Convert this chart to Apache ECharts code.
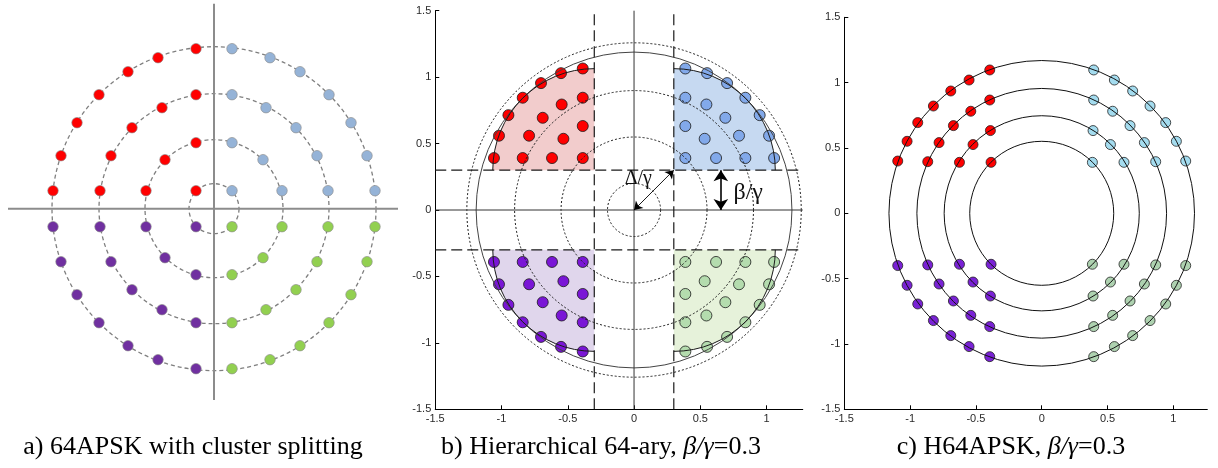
<!DOCTYPE html>
<html><head><meta charset="utf-8">
<script src="https://cdn.jsdelivr.net/npm/echarts@6/dist/echarts.min.js"></script>
<style>html,body{margin:0;padding:0;background:#fff}#c{width:1218px;height:468px}</style>
</head><body><div id="c"></div>
<script>
// ================= DATA =================
// quadrant order: upper-left, upper-right, lower-left, lower-right
const quadNames = ['UL', 'UR', 'LL', 'LR'];
const quadSignX = [-1, 1, -1, 1];
const quadSignY = [1, 1, -1, -1];

// a) 64APSK with cluster splitting (magnitudes of one quadrant, rings 1,3,5,7 points)
const pointsA = [
  [0.18,0.18],
  [0.68,0.18],[0.49,0.49],[0.18,0.66],
  [1.14,0.18],[1.03,0.53],[0.82,0.81],[0.52,1.01],[0.18,1.14],
  [1.61,0.18],[1.53,0.53],[1.37,0.86],[1.15,1.14],[0.86,1.37],[0.56,1.51],[0.18,1.60]
];
const ringRadiiA = [0.25, 0.69, 1.15, 1.62];
const axisLinesA = [[-2.06, 0, 1.84, 0], [0, 2.05, 0, -1.913]];

// b) Hierarchical 64-ary, beta/gamma = 0.3
const pointsB = [
  [0.387,1.065],[0.551,1.030],[0.702,0.955],[0.840,0.845],[0.387,0.845],[0.546,0.794],
  [0.948,0.714],[0.689,0.694],[0.387,0.632],[1.019,0.559],[0.792,0.559],[0.533,0.536],
  [1.057,0.391],[0.840,0.391],[0.619,0.391],[0.387,0.391]
];
const clusterOffsetB = 0.3;
const clusterRadiusB = 0.765;
const solidCirclesB = [1.19];
const dottedCirclesB = [0.2, 0.55, 0.9, 1.26];
const solidLinesB = [[0, -1.5, 0, 1.5], [-1.5, 0, 1.273, 0]];
const dashedLinesB = [[-0.3, -1.5, -0.3, 1.5], [0.3, -1.5, 0.3, 1.5], [-1.5, 0.3, 1.273, 0.3], [-1.5, -0.3, 1.273, -0.3]];
const arrowsB = [[0, 0, 0.3, 0.3], [0.655, 0, 0.655, 0.3]];
const labelTextsB = ['Δ/γ', 'β/γ'];
const labelPosB = [[0.032, 0.238], [0.75, 0.133]];

// c) H64APSK, beta/gamma = 0.3
const pointsC = [
  [1.094,0.400],[1.023,0.551],[0.942,0.694],[0.823,0.821],[0.691,0.936],[0.552,1.020],[0.395,1.097],
  [0.866,0.395],[0.780,0.541],[0.671,0.671],[0.539,0.781],[0.395,0.867],
  [0.625,0.390],[0.522,0.526],[0.390,0.633],
  [0.385,0.390]
];
const ringRadiiC = [0.549, 0.744, 0.952, 1.165];

// axes ticks (panels b, c)
const xTicks = [-1.5, -1, -0.5, 0, 0.5, 1];
const yTicks = [-1.5, -1, -0.5, 0, 0.5, 1, 1.5];

const captions = [
  'a) 64APSK with cluster splitting',
  'b) Hierarchical 64-ary, {i|β/γ}=0.3',
  'c) H64APSK, {i|β/γ}=0.3'
];

// ================= STYLE =================
const colorsA = ['#ff0000', '#95b3d7', '#7030a0', '#92d050'];
const colorsB = ['#ff0000', '#82a9ea', '#7a16d6', '#b4dcae'];
const fillsB  = ['#f2cccc', '#c6d9f1', '#e0d6ec', '#e6f2da'];
const colorsC = ['#ff0000', '#a4dcef', '#7a22d6', '#aed2b0'];
const captionX = [193, 601, 1011];
const captionY = 447;

// ================= BUILD =================
function quadData(points, q) {
  return points.map(p => [p[0] * quadSignX[q], p[1] * quadSignY[q]]);
}
function scatterSeries(g, points, colors, size, border, z) {
  return quadNames.map((n, q) => ({
    type: 'scatter', name: n, xAxisIndex: g, yAxisIndex: g, z: z, silent: true,
    symbolSize: size, data: quadData(points, q),
    itemStyle: { color: colors[q], borderColor: border.color, borderWidth: border.width, opacity: 1 }
  }));
}
function circleSeries(g, radii, style, z) {
  return {
    type: 'custom', xAxisIndex: g, yAxisIndex: g, z: z, silent: true,
    data: radii.map(r => [0, 0, r]), encode: { x: 0, y: 1 },
    renderItem(params, api) {
      const c = api.coord([api.value(0), api.value(1)]);
      const s = api.size([api.value(2), api.value(2)]);
      return { type: 'circle', shape: { cx: c[0], cy: c[1], r: (s[0] + s[1]) / 2 },
               style: Object.assign({ fill: null }, style) };
    }
  };
}
function segSeries(g, segs, style, z) {
  return {
    type: 'custom', xAxisIndex: g, yAxisIndex: g, z: z, silent: true,
    data: segs, encode: { x: [0, 2], y: [1, 3] },
    renderItem(params, api) {
      const p1 = api.coord([api.value(0), api.value(1)]);
      const p2 = api.coord([api.value(2), api.value(3)]);
      return { type: 'line', shape: { x1: p1[0], y1: p1[1], x2: p2[0], y2: p2[1] },
               style: Object.assign({ fill: null }, style) };
    }
  };
}
function startAngle(sx, sy) {
  if (sx < 0) return sy > 0 ? Math.PI : Math.PI / 2;
  return sy > 0 ? -Math.PI / 2 : 0;
}
function clusterSeries(asArc, z) {
  return {
    type: 'custom', xAxisIndex: 1, yAxisIndex: 1, z: z, silent: true,
    data: quadNames.map((n, q) => [quadSignX[q] * clusterOffsetB, quadSignY[q] * clusterOffsetB, clusterRadiusB, q]),
    encode: { x: 0, y: 1 },
    renderItem(params, api) {
      const c = api.coord([api.value(0), api.value(1)]);
      const s = api.size([api.value(2), api.value(2)]);
      const q = api.value(3);
      const a0 = startAngle(quadSignX[q], quadSignY[q]);
      const shape = { cx: c[0], cy: c[1], r0: 0, r: (s[0] + s[1]) / 2, startAngle: a0, endAngle: a0 + Math.PI / 2, clockwise: true };
      if (asArc) return { type: 'arc', shape: shape, style: { fill: null, stroke: '#1a1a1a', lineWidth: 1 } };
      return { type: 'sector', shape: shape, style: { fill: fillsB[q], stroke: null } };
    }
  };
}
function arrowSeries(a, width, size) {
  return {
    type: 'scatter', xAxisIndex: 1, yAxisIndex: 1, silent: true, z: 6,
    symbolSize: 0, data: [[a[0], a[1]]],
    markLine: {
      silent: true, animation: false, symbol: ['arrow', 'arrow'], symbolSize: size,
      label: { show: false }, lineStyle: { color: '#000', type: 'solid', width: width },
      emphasis: { disabled: true },
      data: [[{ coord: [a[0], a[1]] }, { coord: [a[2], a[3]] }]]
    }
  };
}
const labelSizesB = [20, 24];
const labelAlignB = ['center', 'left'];
const labelSeries = {
  type: 'custom', xAxisIndex: 1, yAxisIndex: 1, z: 7, silent: true,
  data: labelPosB, encode: { x: 0, y: 1 },
  renderItem(params, api) {
    const p = api.coord([api.value(0), api.value(1)]);
    const i = params.dataIndex;
    return { type: 'text', x: p[0], y: p[1],
      style: { text: labelTextsB[i], fontFamily: 'Liberation Serif', fontSize: labelSizesB[i], fill: '#111',
               align: labelAlignB[i], verticalAlign: 'middle' } };
  }
};

function valueAxis(g, min, max, ticks) {
  return {
    gridIndex: g, type: 'value', min: min, max: max, interval: 0.5,
    axisLine: { show: true, onZero: false, lineStyle: { color: '#000', width: 1 } },
    axisTick: { show: true, inside: true, length: 4, customValues: ticks, lineStyle: { color: '#000', width: 1 } },
    axisLabel: { show: true, customValues: ticks, margin: 4, color: '#2a2a2a', fontSize: 11,
                 fontFamily: 'Liberation Sans', formatter: v => String(v) },
    splitLine: { show: false }
  };
}

const series = [].concat(
  // panel a
  circleSeries(0, ringRadiiA, { stroke: '#7f7f7f', lineWidth: 1.3, lineDash: [4, 3] }, 1),
  segSeries(0, axisLinesA, { stroke: '#8c8c8c', lineWidth: 2 }, 1),
  scatterSeries(0, pointsA, colorsA, 10.5, { color: 'rgba(140,140,140,0.8)', width: 0.8 }, 3),
  // panel b
  clusterSeries(false, 1),
  scatterSeries(1, pointsB, colorsB, 11, { color: '#1a1a1a', width: 0.8 }, 3),
  circleSeries(1, dottedCirclesB, { stroke: '#1e1e1e', lineWidth: 1, lineDash: [2, 2] }, 4),
  circleSeries(1, solidCirclesB, { stroke: '#444', lineWidth: 1 }, 4),
  clusterSeries(true, 4),
  segSeries(1, solidLinesB, { stroke: '#333', lineWidth: 1 }, 4),
  segSeries(1, dashedLinesB, { stroke: '#1a1a1a', lineWidth: 1.2, lineDash: [11, 5] }, 4),
  arrowSeries(arrowsB[0], 0.9, 8),
  arrowSeries(arrowsB[1], 1.6, 11),
  labelSeries,
  // panel c
  scatterSeries(2, pointsC, colorsC, 10, { color: '#222', width: 0.8 }, 3),
  circleSeries(2, ringRadiiC, { stroke: '#111', lineWidth: 1 }, 4)
);

const chart = echarts.init(document.getElementById('c'), null, { renderer: 'canvas' });
chart.setOption({
  animation: false,
  backgroundColor: '#fff',
  grid: [
    { left: 4, top: 3.7, width: 420, height: 410, outerBoundsMode: 'none' },
    { left: 435.25, top: 10.7, width: 367.5, height: 398.6, outerBoundsMode: 'none' },
    { left: 844.3, top: 17.3, width: 363, height: 392, outerBoundsMode: 'none' }
  ],
  xAxis: [
    { gridIndex: 0, type: 'value', min: -2.1, max: 2.1, show: false },
    valueAxis(1, -1.5, 1.273, xTicks),
    valueAxis(2, -1.5, 1.258, xTicks)
  ],
  yAxis: [
    { gridIndex: 0, type: 'value', min: -2.05, max: 2.05, show: false },
    valueAxis(1, -1.5, 1.5, yTicks),
    valueAxis(2, -1.5, 1.5, yTicks)
  ],
  graphic: captions.map((t, i) => ({
    type: 'text', x: captionX[i], y: captionY, silent: true,
    style: { text: t, fontFamily: 'Liberation Serif', fontSize: 26, fill: '#000',
             align: 'center', verticalAlign: 'middle',
             rich: { i: { fontStyle: 'italic', fontFamily: 'Liberation Serif', fontSize: 26, fill: '#000' } } }
  })),
  series: series
});
</script></body></html>
